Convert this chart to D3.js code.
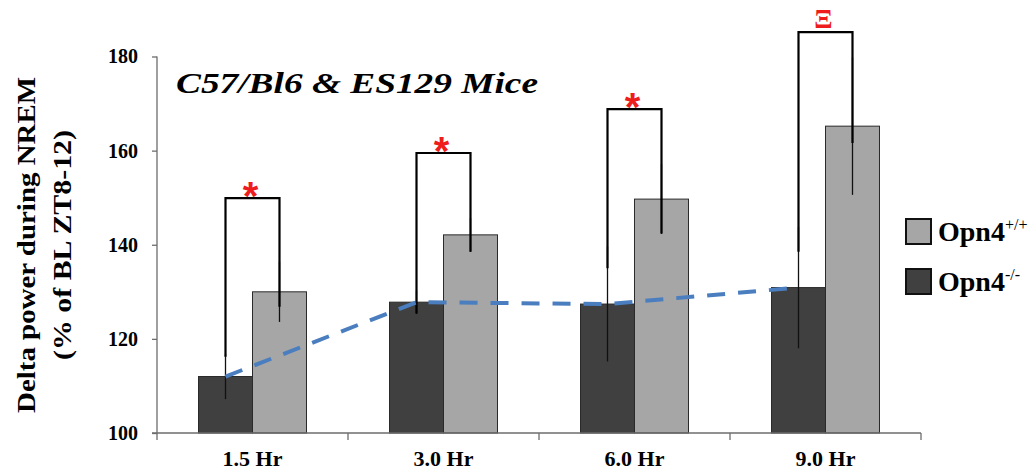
<!DOCTYPE html>
<html><head><meta charset="utf-8">
<script src="https://cdn.jsdelivr.net/npm/d3@7"></script>
<style>
html,body{margin:0;padding:0;background:#fff;}
svg{display:block;}
</style></head>
<body>
<svg id="chart" width="1036" height="470"></svg>
<script>
// ---- data ----
const categories = ["1.5 Hr", "3.0 Hr", "6.0 Hr", "9.0 Hr"];
const seriesNames = ["Opn4-/-", "Opn4+/+"];
const knockout = [112.0, 127.8, 127.4, 130.9];     // Opn4-/-
const wildtype = [130.0, 142.1, 149.7, 165.2];     // Opn4+/+
const knockoutErr = [4.8, 2.5, 12.2, 12.9];
const wildtypeErr = [6.4, 3.6, 7.4, 14.6];
const bracketTop = [149.9, 159.5, 168.8, 185.2];
const bracketLeftEnd = [116.2, 125.4, 135.0, 138.5];
const bracketRightEnd = [126.8, 138.5, 142.4, 161.6];
const sigMarks = ["*", "*", "*", "Ξ"];
const yTicks = [100, 120, 140, 160, 180];

// ---- layout ----
const serif = "'Liberation Serif', serif";
const sans = "'Liberation Sans', sans-serif";
const svg = d3.select("#chart");
const x0 = 157, x1 = 921, yBase = 433, yTop = 56.5;
const x = d3.scaleBand().domain(categories).range([x0, x1]).paddingInner(0.4346).paddingOuter(0.2173);
const xs = d3.scaleBand().domain(seriesNames).range([0, x.bandwidth()]);
const y = d3.scaleLinear().domain([100, 180]).range([yBase, yTop]);

const colors = {"Opn4-/-": "#404040", "Opn4+/+": "#a6a6a6"};
const rows = categories.map((c, i) => ({
  cat: c,
  bars: [
    {s: "Opn4-/-", v: knockout[i], e: knockoutErr[i]},
    {s: "Opn4+/+", v: wildtype[i], e: wildtypeErr[i]}
  ],
  top: bracketTop[i], le: bracketLeftEnd[i], re: bracketRightEnd[i], mark: sigMarks[i]
}));

// bars
const g = svg.append("g");
const grp = g.selectAll("g.grp").data(rows).join("g").attr("transform", d => `translate(${x(d.cat)},0)`);
grp.selectAll("rect").data(d => d.bars).join("rect")
  .attr("x", d => xs(d.s)).attr("width", xs.bandwidth())
  .attr("y", d => y(d.v)).attr("height", d => y(100) - y(d.v))
  .attr("fill", d => colors[d.s]).attr("stroke", "#2a2a2a").attr("stroke-width", 1);

// error bars
grp.selectAll("line.err").data(d => d.bars).join("line").attr("class", "err")
  .attr("x1", d => xs(d.s) + xs.bandwidth() / 2).attr("x2", d => xs(d.s) + xs.bandwidth() / 2)
  .attr("y1", d => y(d.v - d.e)).attr("y2", d => y(d.v + d.e))
  .attr("stroke", "#111").attr("stroke-width", 1.3);

// brackets
const cx = s => xs(s) + xs.bandwidth() / 2;
grp.append("path")
  .attr("d", d => `M${cx("Opn4-/-")},${y(d.le)}V${y(d.top)}H${cx("Opn4+/+")}V${y(d.re)}`)
  .attr("fill", "none").attr("stroke", "#000").attr("stroke-width", 2.2);
grp.append("text")
  .attr("x", x.bandwidth() / 2 - 2)
  .attr("y", d => y(d.top) + (d.mark === "*" ? 12 : -4))
  .attr("text-anchor", "middle")
  .attr("fill", "#ee1c1c").attr("font-weight", "bold")
  .style("font-family", d => d.mark === "*" ? sans : serif)
  .attr("font-size", d => d.mark === "*" ? 40 : 27)
  .text(d => d.mark);

// dashed trend line through knockout means
const line = d3.line().x(d => x(d.cat) + cx("Opn4-/-")).y(d => y(d.bars[0].v));
svg.append("path").datum(rows).attr("d", line)
  .attr("fill", "none").attr("stroke", "#4a7ebf").attr("stroke-width", 4)
  .attr("stroke-dasharray", "18,13");

// axes
const yAxis = svg.append("g").attr("transform", `translate(${x0},0)`)
  .call(d3.axisLeft(y).tickValues(yTicks).tickSize(5).tickPadding(14));
yAxis.select(".domain").attr("stroke", "#6d6d6d").attr("stroke-width", 1.3).attr("d", `M0,${yTop}V${yBase}`);
yAxis.selectAll(".tick line").attr("stroke", "#6d6d6d").attr("stroke-width", 1.3);
yAxis.selectAll(".tick text").attr("font-size", 20).attr("font-weight", "bold")
  .style("font-family", serif).attr("fill", "#000");

const xAxis = svg.append("g").attr("transform", `translate(0,${yBase})`)
  .call(d3.axisBottom(x).tickSize(0));
xAxis.select(".domain").attr("stroke", "#6d6d6d").attr("stroke-width", 1.3).attr("d", `M${x0 - 5},0H${x1}`);
xAxis.selectAll(".tick text").attr("font-size", 22).attr("font-weight", "bold")
  .style("font-family", serif).attr("fill", "#000").attr("y", 33).attr("dy", 0);
// category boundary ticks
svg.append("g").selectAll("line").data(d3.range(categories.length + 1)).join("line")
  .attr("x1", i => x0 + i * x.step()).attr("x2", i => x0 + i * x.step())
  .attr("y1", yBase).attr("y2", yBase + 7)
  .attr("stroke", "#6d6d6d").attr("stroke-width", 1.3);

// y label
const yl = svg.append("text").attr("transform", "translate(0,245) rotate(-90)")
  .attr("text-anchor", "middle").attr("font-weight", "bold").attr("font-size", 25)
  .style("font-family", serif);
yl.append("tspan").attr("x", 0).attr("y", 35).attr("textLength", 336).attr("lengthAdjust", "spacingAndGlyphs").text("Delta power during NREM");
yl.append("tspan").attr("x", 0).attr("y", 71).attr("textLength", 230).attr("lengthAdjust", "spacingAndGlyphs").text("(% of BL ZT8-12)");

// title
svg.append("text").attr("x", 176).attr("y", 93)
  .style("font-family", serif).style("font-style", "italic")
  .attr("font-size", 30).attr("font-weight", "bold")
  .attr("textLength", 362).attr("lengthAdjust", "spacingAndGlyphs")
  .text("C57/Bl6 & ES129 Mice");

// legend
const legendItems = [
  {s: "Opn4+/+", base: "Opn4", sup: "+/+", y: 219},
  {s: "Opn4-/-", base: "Opn4", sup: "-/-", y: 269}
];
const lg = svg.append("g").selectAll("g").data(legendItems).join("g")
  .attr("transform", d => `translate(906,${d.y})`);
lg.append("rect").attr("width", 25).attr("height", 25)
  .attr("fill", d => colors[d.s]).attr("stroke", "#111").attr("stroke-width", 2);
const lt = lg.append("text").attr("x", 32).attr("y", 22).attr("font-size", 28).attr("font-weight", "bold")
  .style("font-family", serif);
lt.append("tspan").text(d => d.base);
lt.append("tspan").attr("dy", -11).attr("font-size", 16).attr("font-weight", "normal").text(d => d.sup);
</script>
</body></html>
